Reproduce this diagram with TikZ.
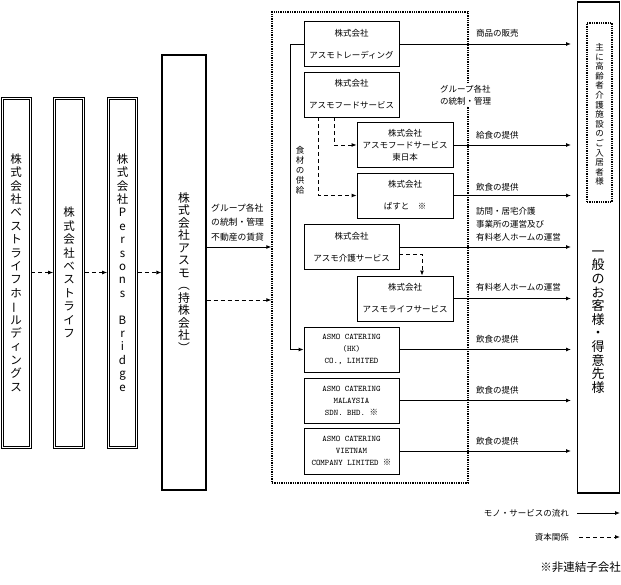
\documentclass[tikz,border=0pt]{standalone}
\usepackage{fontspec}
\usepackage{graphicx}
\setmainfont{Noto Sans CJK JP}
\newfontfamily\jpf{Noto Sans CJK JP}
\usetikzlibrary{arrows.meta}
\newcommand\VLong{\rotatebox[origin=c]{90}{ー}}
\tikzset{
 every node/.style={inner sep=0pt},
 dbox/.style={draw, line width=0.7pt},
 mbox/.style={draw, line width=1.1pt},
 ibox/.style={draw, line width=0.8pt, minimum width=95pt, minimum height=45pt, align=center, font=\fontsize{8.5}{22}\selectfont},
 ibox3/.style={ibox, font=\fontsize{8.5}{12}\selectfont},
 abox/.style={ibox, font=\ttfamily\fontsize{8.5}{12}\selectfont},
 dotbox/.style={draw, line width=1.3pt, dash pattern=on 1.3pt off 1pt},
 vtxt/.style={align=center, font=\fontsize{11.5}{13.4}\selectfont},
 lbl/.style={anchor=west, font=\fontsize{8.5}{13}\selectfont, align=left},
 flow/.style={line width=0.9pt, -{Latex[length=5pt,width=4pt]}},
 capl/.style={line width=0.9pt, dash pattern=on 4pt off 3pt, -{Latex[length=5pt,width=4pt]}},
 inner/.style={draw, line width=0.7pt},
}
\begin{document}
\begin{tikzpicture}[x=1pt,y=-1pt]
\useasboundingbox[fill=white] (0,0) rectangle (621,585);

% left holding chain
\node[dbox, vtxt, minimum width=30pt, minimum height=351pt] (b1) at (16,272.5)
 {株\\式\\会\\社\\ベ\\ス\\ト\\ラ\\イ\\フ\\ホ\\\VLong\\ル\\デ\\ィ\\ン\\グ\\ス};
\node[dbox, vtxt, minimum width=31pt, minimum height=351pt] (b2) at (69,272.5)
 {株\\式\\会\\社\\ベ\\ス\\ト\\ラ\\イ\\フ};
\node[dbox, vtxt, minimum width=30pt, minimum height=351pt] (b3) at (122.5,272.5)
 {株\\式\\会\\社\\P\\e\\r\\s\\o\\n\\s\\\mbox{}\\B\\r\\i\\d\\g\\e};
\foreach \b in {b1,b2,b3}
  \draw[inner] ([shift={(2.3pt,-2.3pt)}]\b.north west) rectangle ([shift={(-2.3pt,2.3pt)}]\b.south east);
\node[mbox, vtxt, font=\fontsize{11.8}{12.5}\selectfont, minimum width=44pt, minimum height=435pt] (b4) at (184,272.5)
 {株\\式\\会\\社\\ア\\ス\\モ\\︵\\持\\株\\会\\社\\︶};

\draw[capl] (b1) -- (b2);
\draw[capl] (b2) -- (b3);
\draw[capl] (b3) -- (b4);

% group box
\node[dotbox, minimum width=196pt, minimum height=471pt] (grp) at (370,247.5) {};

\coordinate (c1) at (0,247);
\coordinate (c2) at (0,300);
\draw[flow] (b4.east |- c1) -- (grp.west |- c1);
\draw[capl] (b4.east |- c2) -- (grp.west |- c2);
\node[lbl, font=\fontsize{8.8}{14.5}\selectfont] (l10) at (211,222.5) {グループ各社\\の統制・管理\\不動産の賃貸};

% subsidiaries
\node[ibox] (trade) at (351.5,44) {株式会社\\アスモトレーディング};
\node[ibox] (food) at (351.5,94.5) {株式会社\\アスモフードサービス};
\node[ibox3, minimum width=96pt] (east) at (405,145) {株式会社\\アスモフードサービス\\東日本};
\node[ibox, minimum width=96pt] (pasuto) at (405,195.5) {株式会社\\ぱすと　※};
\node[ibox] (kaigo) at (351.5,247) {株式会社\\アスモ介護サービス};
\node[ibox, minimum width=96pt] (life) at (405,298.5) {株式会社\\アスモライフサービス};
\node[abox] (hk) at (351.5,349.5) {ASMO CATERING\\(HK)\\CO., LIMITED};
\node[abox] (my) at (351.5,400.5) {ASMO CATERING\\MALAYSIA\\SDN. BHD. {\jpf ※}};
\node[abox, minimum height=46pt] (vn) at (351.5,451) {ASMO CATERING\\VIETNAM\\COMPANY LIMITED {\jpf ※}};

% food supply
\coordinate (fx) at (290,0);
\draw[flow] (trade.west) -- (trade.west -| fx) -- (hk.west -| fx) -- (hk.west);
\node[vtxt, font=\fontsize{8.5}{10}\selectfont] (shoku) at (300,170) {食\\材\\の\\供\\給};

\coordinate (d1) at (334,0);
\coordinate (d2) at (318,0);
\draw[capl] (food.south -| d1) -- (east.west -| d1) -- (east.west);
\draw[capl] (food.south -| d2) -- (pasuto.west -| d2) -- (pasuto.west);
\coordinate (d3) at (422,254);
\draw[capl] (kaigo.east |- d3) -- (d3) -- (life.north -| d3);

% customer box
\node[mbox, minimum width=42pt, minimum height=491pt] (cust) at (598.5,247.5) {};
\node[vtxt, font=\fontsize{13}{13.6}\selectfont] (custtxt) at (598,322) {一\\般\\の\\お\\客\\様\\・\\得\\意\\先\\様};
\node[dotbox, minimum width=25pt, minimum height=179pt] (resid) at (599.5,112.5) {};
\node[vtxt, font=\fontsize{8.5}{9.6}\selectfont] (residtxt) at (599.5,114.5) {主\\に\\高\\齢\\者\\介\\護\\施\\設\\の\\ご\\入\\居\\者\\様};

% flows to customers
\coordinate (tip) at (571,0);
\foreach \n in {trade,east,pasuto,kaigo,life,hk,my,vn}
  \draw[flow] (\n.east) -- (\n.east -| tip);

\node[lbl] (l1) at (476,33) {商品の販売};
\node[lbl] (l2) at (476,135) {給食の提供};
\node[lbl] (l3) at (476,187) {飲食の提供};
\node[lbl] (l4) at (476,224) {訪問・居宅介護\\事業所の運営及び\\有料老人ホームの運営};
\node[lbl] (l5) at (476,287) {有料老人ホームの運営};
\node[lbl] (l6) at (476,339) {飲食の提供};
\node[lbl] (l7) at (476,390) {飲食の提供};
\node[lbl] (l8) at (476,441) {飲食の提供};
\node[lbl, fill=white, inner sep=1pt, font=\fontsize{8.5}{12}\selectfont] (l9) at (439,95) {グループ各社\\の統制・管理};

% legend
\node[lbl, anchor=east] (leg1) at (569,513) {モノ・サービスの流れ};
\node[lbl, anchor=east] (leg2) at (569,537) {資本関係};
\coordinate (g1s) at (577,513);
\coordinate (g1e) at (620,513);
\coordinate (g2s) at (579,537);
\coordinate (g2e) at (620,537);
\draw[flow] (g1s) -- (g1e);
\draw[capl] (g2s) -- (g2e);
\node[anchor=east, font=\fontsize{11.5}{13}\selectfont] (note) at (621,567) {※非連結子会社};
\end{tikzpicture}
\end{document}
